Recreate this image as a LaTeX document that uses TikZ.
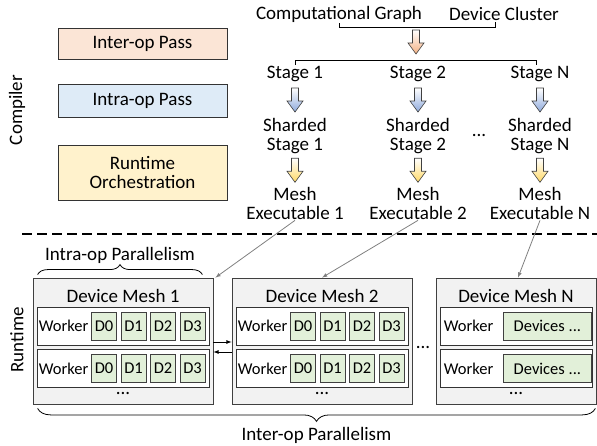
\documentclass[tikz,border=0pt]{standalone}
\usepackage{fontspec}
\setmainfont{Carlito}
\usetikzlibrary{positioning,shapes,arrows,calc,decorations.pathreplacing}
\usepackage{xcolor}
\definecolor{interorange}{RGB}{251,229,214}
\definecolor{intrablue}{RGB}{222,235,247}
\definecolor{runyellow}{RGB}{255,242,204}
\definecolor{devgreen}{RGB}{226,240,217}
\definecolor{meshgray}{RGB}{242,242,242}
\definecolor{arrorange}{RGB}{244,177,131}
\definecolor{arrblue}{RGB}{143,170,220}
\definecolor{arryellow}{RGB}{255,217,102}
\newcommand{\bigfont}{\fontsize{19}{19}\selectfont}
\newcommand{\smallfont}{\fontsize{16.5}{18}\selectfont}
% down-pointing block arrow centred on a named coordinate
\newcommand{\blockarrow}[2]{%
    \draw[draw=black!75,line width=0.6pt,top color=white,bottom color=#2]
        (#1) ++(-3.5,-12) -- ++(7,0) -- ++(0,13) -- ++(4.5,0) -- ++(-8,11)
        -- ++(-8,-11) -- ++(4.5,0) -- cycle;}

\tikzset{
    passbox/.style={draw=black!80,line width=0.8pt,minimum width=169pt,font=\bigfont,align=center,inner sep=1pt},
    txt/.style={font=\bigfont,align=center,inner sep=1pt},
    meshbox/.style={draw=black!75,line width=0.8pt,fill=meshgray,minimum height=126pt},
    rowbox/.style={draw=black!80,line width=0.8pt,fill=white,minimum height=38pt},
    devbox/.style={draw=black!75,line width=0.6pt,fill=devgreen,minimum width=25pt,minimum height=28pt,inner sep=0pt,font=\smallfont},
    brace/.style={decorate,decoration={brace,amplitude=#1},line width=0.8pt},
    brace/.default=10pt
}

\begin{document}
\begin{tikzpicture}[x=1pt,y=-1pt]
    \useasboundingbox (0,0) rectangle (597,446);

    % Compiler passes
    \node[txt,rotate=90] (compiler) at (17,110) {Compiler};
    \node[passbox,fill=interorange,minimum height=31pt] (inter) at (142.5,43.5) {Inter-op Pass};
    \node[passbox,fill=intrablue,minimum height=33pt] (intra) at (142.5,100.5) {Intra-op Pass};
    \node[passbox,fill=runyellow,minimum height=55pt] (orch) at (142.5,172.5) {Runtime\\Orchestration};

    % Inputs
    \node[txt] (graph) at (339,14) {Computational Graph};
    \node[txt] (cluster) at (504,14) {Device Cluster};
    \draw[line width=0.8pt] (graph.south) -- ++(0,4) -| ([xshift=-9pt]cluster.south);
    \coordinate (split) at (416,42);
    \blockarrow{split}{arrorange}

    % Stages
    \node[txt] (s1) at (295,74) {Stage 1};
    \node[txt] (s2) at (418,74) {Stage 2};
    \node[txt] (sN) at (540,74) {Stage N};
    \draw[line width=0.8pt] (s1.north) -- ++(0,-5) -| ([xshift=-4pt]sN.north);

    \node[txt] (ss1) at (295,136) {Sharded\\Stage 1};
    \node[txt] (ss2) at (418,136) {Sharded\\Stage 2};
    \node[txt] (ssN) at (540,136) {Sharded\\Stage N};
    \node[txt] (sdots) at ($(ss2)!0.5!(ssN)$) {...};

    \node[txt] (me1) at (295,203) {Mesh\\Executable 1};
    \node[txt] (me2) at (418,203) {Mesh\\Executable 2};
    \node[txt] (meN) at (540,203) {Mesh\\Executable N};

    \coordinate (b1) at ($(s1.south)!0.5!(ss1.north)$);
    \coordinate (b2) at ($(s2.south)!0.5!(ss2.north)$);
    \coordinate (bN) at ($(sN.south)!0.5!(ssN.north)$);
    \coordinate (y1) at ($(ss1.south)!0.5!(me1.north)$);
    \coordinate (y2) at ($(ss2.south)!0.5!(me2.north)$);
    \coordinate (yN) at ($(ssN.south)!0.5!(meN.north)$);
    \blockarrow{b1}{arrblue}
    \blockarrow{b2}{arrblue}
    \blockarrow{bN}{arrblue}
    \blockarrow{y1}{arryellow}
    \blockarrow{y2}{arryellow}
    \blockarrow{yN}{arryellow}

    % Compiler / runtime border
    \draw[line width=2pt,dash pattern=on 10pt off 5pt] (22,234) -- (597,234);

    % Runtime
    \node[txt,rotate=90] (runtime) at (17,340) {Runtime};

    \node[meshbox,minimum width=180pt] (m1) at (123,341) {};
    \node[meshbox,minimum width=180pt] (m2) at (322,341) {};
    \node[meshbox,minimum width=160pt] (mN) at (516,341) {};
    \node[txt] (mdots) at (423,347) {...};

    \foreach \m/\name in {m1/Device Mesh 1,m2/Device Mesh 2,mN/Device Mesh N} {
        \node[txt] (\m title) at ([yshift=-18pt]\m.north) {\name};
        \node[txt] (\m dots) at ([yshift=11pt]\m.south) {...};
    }

    % Workers with four devices
    \foreach \m in {m1,m2} {
        \foreach \r/\dy in {1/15,2/-27.5} {
            \node[rowbox,minimum width=172pt] (\m w\r) at ([yshift=\dy pt]\m.center) {};
            \node[font=\smallfont,inner sep=0pt] at ([xshift=27pt]\m w\r.west) {Worker};
            \foreach \k in {0,...,3}
                \node[devbox] (\m d\r\k) at ([xshift=67.5pt+29.5pt*\k]\m w\r.west) {D\k};
        }
    }

    % Workers of the last mesh
    \foreach \r/\dy in {1/15,2/-27.5} {
        \node[rowbox,minimum width=152pt] (mNw\r) at ([yshift=\dy pt]mN.center) {};
        \node[font=\smallfont,inner sep=0pt] at ([xshift=29pt]mNw\r.west) {Worker};
        \node[devbox,minimum width=88pt] (mNd\r) at ([xshift=-45pt]mNw\r.east) {Devices ...};
    }

    % Placement and communication
    \draw[black!50,line width=0.8pt,-latex] (me1.south) -- ([xshift=2pt]m1.north east);
    \draw[black!50,line width=0.8pt,-latex] (me2.south) -- (m2.north);
    \draw[black!50,line width=0.8pt,-latex] (meN.south) -- ([xshift=2pt]mN.north);
    \draw[line width=0.8pt,-latex] ([yshift=-1pt]m1.east) -- ([yshift=-1pt]m2.west);
    \draw[line width=0.8pt,-latex] ([yshift=-11pt]m2.west) -- ([yshift=-11pt]m1.east);

    % Parallelism braces
    \draw[brace] ([xshift=5pt,yshift=3pt]m1.north west) -- node[txt,above=10pt] (intrapar) {Intra-op Parallelism} ([xshift=-11pt,yshift=3pt]m1.north east);
    \draw[brace=13pt] ([xshift=-1pt,yshift=-4pt]mN.south east) -- node[txt,below=18pt] (interpar) {Inter-op Parallelism} ([xshift=5pt,yshift=-4pt]m1.south west);
\end{tikzpicture}
\end{document}
